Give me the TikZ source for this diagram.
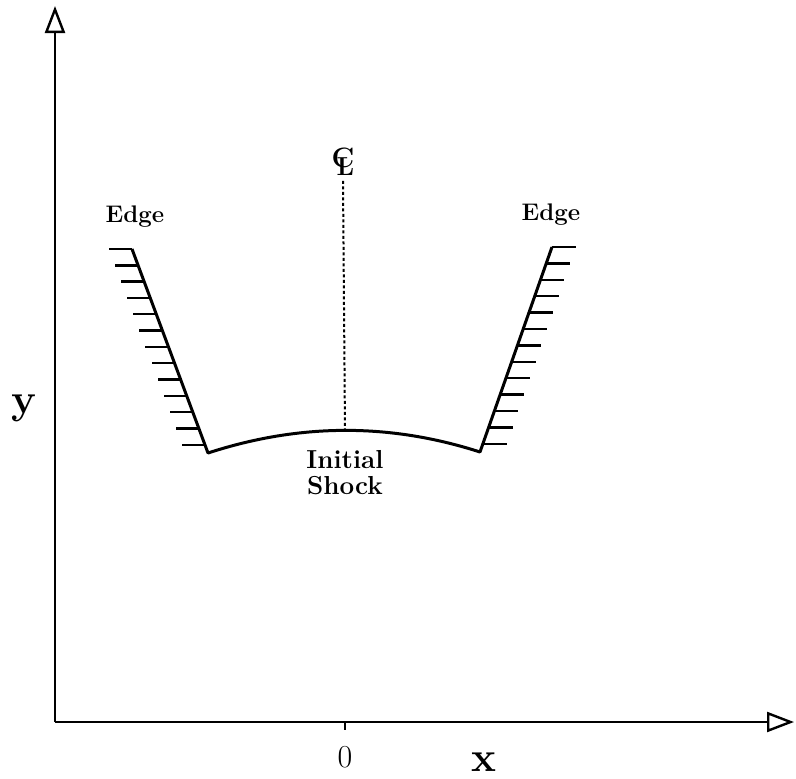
\documentclass[tikz,border=0pt]{standalone}
\usepackage{fontspec}
\usepackage{tikz}
\usetikzlibrary{arrows.meta, positioning, calc}

\tikzset{
  axisline/.style={line width=2.2pt, -{Triangle[open, length=27pt, width=20pt, line width=2.4pt]}},
  wall/.style={line width=3pt, line join=round},
  hatch/.style={line width=2.4pt},
  lbl/.style={inner sep=0pt, font=\fontsize{24}{26}\selectfont\bfseries},
}

\begin{document}
\begin{tikzpicture}[x=1pt, y=-1pt]
      \useasboundingbox (0,0) rectangle (796,779);

      % axes
      \coordinate (orig) at (55,722);
      \coordinate (ytip) at (55,6);
      \coordinate (xtip) at (794,722);
      \draw[axisline] (orig) -- (ytip);
      \draw[axisline] (orig) -- (xtip);
      \coordinate (zero) at (345,722);
      \draw[line width=2pt] (zero) -- ++(0,8);

      \node[inner sep=0pt, font=\fontsize{32}{34}\selectfont] (xzero) at (345,757) {0};
      \node[inner sep=0pt, font=\fontsize{42}{44}\selectfont\bfseries] (xlab) at (484,762) {x};
      \node[inner sep=0pt, font=\fontsize{42}{44}\selectfont\bfseries] (ylab) at (24,408) {y};

      % shock and walls
      \coordinate (ltop) at (132,249);
      \coordinate (lbot) at (208,453);
      \coordinate (rtop) at (552,247);
      \coordinate (rbot) at (480,452);
      \coordinate (apex) at (345,430);
      \draw[wall] (ltop) -- (lbot) .. controls (300,423) and (390,423) .. (rbot) -- (rtop);
      \foreach \i in {0,...,12}
        \draw[hatch] ($(ltop)!\i*0.08!(lbot)$) -- ++(-23,0);
      \foreach \i in {0,...,12}
        \draw[hatch] ($(rtop)!\i*0.08!(rbot)$) -- ++(24,0);

      % centre line
      \node[inner sep=0pt, font=\fontsize{26}{28}\selectfont\bfseries] (cl) at (343,162)
            {\rlap{\raisebox{8pt}{\fontsize{28}{30}\selectfont C}}\kern5pt L};
      \draw[line width=2pt, dash pattern=on 3pt off 2.5pt] (cl.south) ++(0,5) -- (apex);

      \node[lbl] (edgeL) at (135,217) {Edge};
      \node[lbl] (edgeR) at (551,215) {Edge};
      \node[lbl, align=center, font=\fontsize{26}{26}\selectfont\bfseries] (shock) at (345,473)
            {Initial\\Shock};
\end{tikzpicture}
\end{document}
